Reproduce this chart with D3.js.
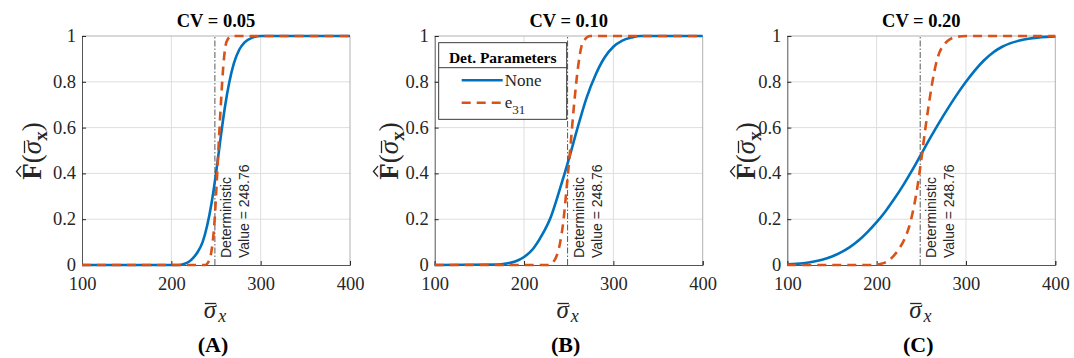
<!DOCTYPE html>
<html>
<head>
<meta charset="utf-8">
<script src="https://cdn.jsdelivr.net/npm/d3@7"></script>
<style>
  body { margin: 0; background: #fff; }
  svg { display: block; }
</style>
</head>
<body>
<svg id="chart" width="1074" height="358"></svg>
<script>
// values
const panelTitles = ["CV = 0.05", "CV = 0.10", "CV = 0.20"];
const panelLetters = ["(A)", "(B)", "(C)"];
const xTicks = [100, 200, 300, 400];
const yTicks = [0, 0.2, 0.4, 0.6, 0.8, 1];
const yTickLabels = ["0", "0.2", "0.4", "0.6", "0.8", "1"];
const detValue = 248.76;
const legendNames = ["None", "e"];

// CV = 0.05
const sigmaNoneA = [100, 208, 214, 220, 225, 230, 235, 240, 245, 250, 255, 260, 265, 270, 276, 282, 290, 300, 400];
const noneA = [0, 0, 0.004, 0.015, 0.033, 0.06, 0.10, 0.17, 0.27, 0.40, 0.55, 0.69, 0.80, 0.88, 0.94, 0.972, 0.992, 1, 1];
const sigmaE31A = [100, 238, 241, 244, 246, 248, 250, 252, 254, 256, 258, 260, 263, 268, 400];
const e31A = [0, 0, 0.01, 0.04, 0.09, 0.17, 0.30, 0.45, 0.60, 0.74, 0.86, 0.94, 0.985, 1, 1];

// CV = 0.10
const sigmaNoneB = [100, 170, 180, 190, 200, 210, 220, 230, 240, 250, 260, 270, 280, 290, 300, 310, 320, 330, 400];
const noneB = [0, 0.002, 0.006, 0.015, 0.035, 0.07, 0.13, 0.21, 0.33, 0.46, 0.60, 0.73, 0.83, 0.905, 0.953, 0.98, 0.993, 1, 1];
const sigmaE31B = [100, 228, 232, 236, 240, 244, 248, 252, 256, 260, 264, 268, 274, 400];
const e31B = [0, 0, 0.01, 0.035, 0.09, 0.19, 0.35, 0.52, 0.70, 0.85, 0.95, 0.985, 1, 1];

// CV = 0.20
const sigmaNoneC = [100, 110, 120, 130, 140, 150, 160, 170, 180, 190, 200, 210, 220, 230, 240, 250, 260, 270, 280, 290, 300, 310, 320, 330, 340, 350, 360, 370, 380, 390, 400];
const noneC = [0.003, 0.005, 0.009, 0.015, 0.024, 0.037, 0.055, 0.078, 0.108, 0.145, 0.187, 0.235, 0.29, 0.35, 0.415, 0.485, 0.555, 0.622, 0.685, 0.745, 0.80, 0.85, 0.893, 0.927, 0.952, 0.969, 0.98, 0.988, 0.993, 0.996, 0.998];
const sigmaE31C = [100, 195, 205, 215, 225, 232, 238, 242, 246, 250, 254, 258, 262, 266, 270, 275, 280, 288, 300, 400];
const e31C = [0, 0, 0.005, 0.025, 0.07, 0.12, 0.19, 0.26, 0.35, 0.46, 0.58, 0.69, 0.79, 0.87, 0.925, 0.96, 0.98, 0.995, 1, 1];

const noneSeries = [[sigmaNoneA, noneA], [sigmaNoneB, noneB], [sigmaNoneC, noneC]];
const e31Series = [[sigmaE31A, e31A], [sigmaE31B, e31B], [sigmaE31C, e31C]];

const BLUE = "#0072BD";
const RED = "#D95319";
const AXIS = "#262626";
const serif = "'Liberation Serif', 'Times New Roman', serif";
const sans = "'Liberation Sans', Arial, sans-serif";

const svg = d3.select("#chart");

const origins = [0, 357, 714];
const plotLeft = [82, 434.7, 787.3];
const plotW = 268;
const plotTop = 36, plotBottom = 265;

panelTitles.forEach(function (title, i) {
  const x = d3.scaleLinear().domain([100, 400]).range([plotLeft[i], plotLeft[i] + plotW]);
  const y = d3.scaleLinear().domain([0, 1]).range([plotBottom, plotTop]);
  const g = svg.append("g");
  const cx = plotLeft[i] + plotW / 2;

  // grid
  g.append("g").selectAll("line").data(xTicks.slice(1, -1)).join("line")
    .attr("x1", d => x(d)).attr("x2", d => x(d))
    .attr("y1", plotTop).attr("y2", plotBottom)
    .attr("stroke", "#dedede").attr("stroke-width", 1);
  g.append("g").selectAll("line").data(yTicks.slice(1, -1)).join("line")
    .attr("x1", plotLeft[i]).attr("x2", plotLeft[i] + plotW)
    .attr("y1", d => y(d)).attr("y2", d => y(d))
    .attr("stroke", "#dedede").attr("stroke-width", 1);

  // box (top/right lighter like the picture)
  g.append("line").attr("x1", plotLeft[i]).attr("x2", plotLeft[i] + plotW)
    .attr("y1", plotTop).attr("y2", plotTop).attr("stroke", "#a8a8a8").attr("stroke-width", 0.9);
  g.append("line").attr("x1", plotLeft[i] + plotW).attr("x2", plotLeft[i] + plotW)
    .attr("y1", plotTop).attr("y2", plotBottom).attr("stroke", "#a8a8a8").attr("stroke-width", 0.9);

  // axes
  const xAxis = g.append("g").attr("transform", `translate(0,${plotBottom})`)
    .call(d3.axisBottom(x).tickValues(xTicks).tickSize(-4).tickPadding(14).tickFormat(d3.format("d")));
  const yAxis = g.append("g").attr("transform", `translate(${plotLeft[i]},0)`)
    .call(d3.axisLeft(y).tickValues(yTicks).tickSize(-4).tickPadding(6).tickFormat((d, j) => yTickLabels[j]));
  [xAxis, yAxis].forEach(function (a) {
    a.attr("font-family", serif).attr("font-size", 18.5);
    a.select(".domain").attr("stroke", "#555").attr("stroke-width", 1);
    a.selectAll(".tick line").attr("stroke", AXIS);
    a.selectAll("text").attr("fill", AXIS);
  });
  xAxis.selectAll("text").attr("dy", "0.6em");
  yAxis.selectAll("text").attr("dy", "0.3em");

  // deterministic value line
  const dx = x(detValue);
  g.append("line").attr("x1", dx).attr("x2", dx).attr("y1", y(0)).attr("y2", y(1))
    .attr("stroke", "#444").attr("stroke-width", 0.9).attr("stroke-dasharray", "6,2,1.5,2");
  ["Deterministic", "Value = " + detValue].forEach(function (s, k) {
    g.append("text")
      .attr("transform", `translate(${dx + 16 + k * 18},258) rotate(-90)`)
      .attr("font-family", sans).attr("font-size", 14).attr("fill", AXIS)
      .text(s);
  });

  // curves
  const line = d3.line().x(d => x(d[0])).y(d => y(d[1])).curve(d3.curveMonotoneX);
  g.append("path").datum(d3.zip(noneSeries[i][0], noneSeries[i][1]))
    .attr("d", line).attr("fill", "none").attr("stroke", BLUE).attr("stroke-width", 2.6);
  g.append("path").datum(d3.zip(e31Series[i][0], e31Series[i][1]))
    .attr("d", line).attr("fill", "none").attr("stroke", RED).attr("stroke-width", 2.6)
    .attr("stroke-dasharray", "9,6");

  // title
  g.append("text").attr("x", cx).attr("y", 27).attr("text-anchor", "middle")
    .attr("font-family", serif).attr("font-weight", "bold").attr("font-size", 18.5).attr("fill", "#000")
    .text(title);

  // panel letter
  g.append("text").attr("x", cx - 3).attr("y", 352).attr("text-anchor", "middle")
    .attr("font-family", serif).attr("font-weight", "bold").attr("font-size", 22).attr("fill", "#000")
    .text(panelLetters[i]);

  // x label: sigma-bar with subscript x
  const xl = g.append("text").attr("x", cx - 1).attr("y", 318).attr("text-anchor", "middle")
    .attr("font-family", serif).attr("font-size", 25).attr("fill", AXIS);
  xl.append("tspan").attr("font-style", "italic").text("σ");
  xl.append("tspan").attr("font-style", "italic").attr("font-size", 18).attr("dy", 4).attr("dx", 2).text("x");
  const sx = xl.node().getExtentOfChar(0);
  g.append("line").attr("x1", sx.x + 1).attr("x2", sx.x + sx.width)
    .attr("y1", 303.5).attr("y2", 303.5).attr("stroke", AXIS).attr("stroke-width", 1.3);

  // y label: F-hat(sigma-bar x)
  const yg = g.append("g").attr("transform", `translate(${origins[i] + 41},151) rotate(-90)`);
  const yl = yg.append("text").attr("x", 0).attr("y", 0).attr("text-anchor", "middle")
    .attr("font-family", serif).attr("font-size", 27).attr("fill", AXIS);
  yl.append("tspan").attr("font-weight", "bold").text("F");
  yl.append("tspan").text("(");
  yl.append("tspan").attr("font-style", "italic").text("σ");
  yl.append("tspan").attr("font-weight", "bold").attr("font-size", 19).attr("dy", 6).text("x");
  yl.append("tspan").attr("dy", -6).text(")");
  const fx = yl.node().getExtentOfChar(0);
  yg.append("path")
    .attr("d", `M${fx.x + 3},-20 L${fx.x + fx.width / 2},-24.5 L${fx.x + fx.width - 3},-20`)
    .attr("fill", "none").attr("stroke", AXIS).attr("stroke-width", 1.4);
  const sg = yl.node().getExtentOfChar(2);
  yg.append("line").attr("x1", sg.x + 1).attr("x2", sg.x + sg.width)
    .attr("y1", -16.5).attr("y2", -16.5).attr("stroke", AXIS).attr("stroke-width", 1.3);

  // legend only in the middle panel
  if (i === 1) {
    const lx = plotLeft[i] + 4, ly = plotTop + 6.7, lw = 128, lh = 76.6;
    const lg = g.append("g");
    lg.append("rect").attr("x", lx).attr("y", ly).attr("width", lw).attr("height", lh)
      .attr("fill", "#fff").attr("stroke", AXIS).attr("stroke-width", 0.9);
    lg.append("line").attr("x1", lx).attr("x2", lx + lw).attr("y1", ly + 25).attr("y2", ly + 25)
      .attr("stroke", AXIS).attr("stroke-width", 0.9);
    lg.append("text").attr("x", lx + lw / 2).attr("y", ly + 20.5).attr("text-anchor", "middle")
      .attr("font-family", serif).attr("font-weight", "bold").attr("font-size", 15.5).attr("fill", "#000")
      .text("Det. Parameters");
    const rows = [{ c: BLUE, dash: null, yy: ly + 37.5 }, { c: RED, dash: "9,6", yy: ly + 60 }];
    rows.forEach(function (r, k) {
      lg.append("line").attr("x1", lx + 23).attr("x2", lx + 64).attr("y1", r.yy).attr("y2", r.yy)
        .attr("stroke", r.c).attr("stroke-width", 2.6).attr("stroke-dasharray", r.dash);
      const t = lg.append("text").attr("x", lx + 66).attr("y", r.yy + 5.5)
        .attr("font-family", serif).attr("font-size", 17).attr("fill", AXIS).text(legendNames[k]);
      if (k === 1) t.append("tspan").attr("font-size", 13).attr("dy", 6).text("31");
    });
  }
});
</script>
</body>
</html>
